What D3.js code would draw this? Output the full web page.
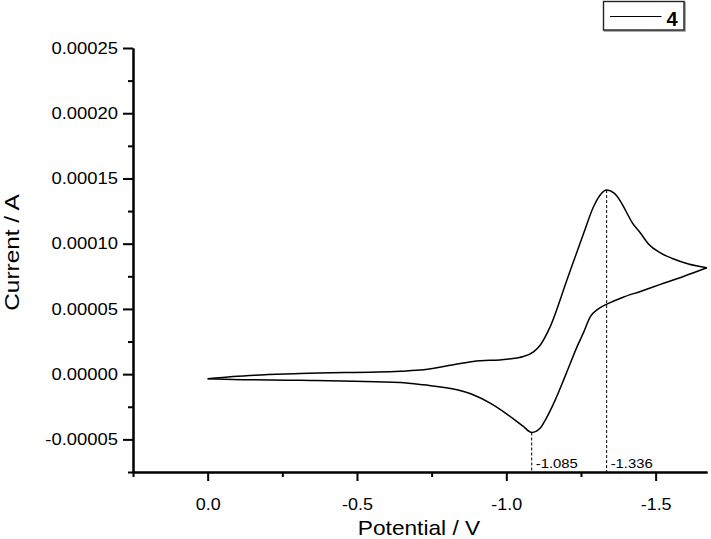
<!DOCTYPE html>
<html>
<head>
<meta charset="utf-8">
<script src="https://cdn.jsdelivr.net/npm/d3@7"></script>
<style>
  body { margin: 0; background: #fff; }
  svg { display: block; }
  text { font-family: 'Liberation Sans', Arial, sans-serif; fill: #000; }
</style>
</head>
<body>
<svg id="chart" width="711" height="539"></svg>
<script>
// forward scan (0 V -> -1.67 V), current in A
var fwdPotential = [0.000, -0.085, -0.310, -0.645, -0.723, -0.835, -0.889, -1.002, -1.057, -1.091,
  -1.114, -1.147, -1.203, -1.259, -1.292, -1.315, -1.336, -1.361, -1.382, -1.402, -1.422, -1.449,
  -1.476, -1.516, -1.556, -1.610, -1.672];
var fwdCurrent = [-3.6e-6, -1.8e-6, 0.5e-6, 2.3e-6, 3.3e-6, 7.7e-6, 9.7e-6, 11.5e-6, 13.5e-6, 17.1e-6,
  22.4e-6, 36.4e-6, 72.2e-6, 108.0e-6, 128.3e-6, 137.5e-6, 141.1e-6, 138.8e-6, 132.7e-6, 124.3e-6, 115.9e-6, 108.2e-6,
  99.8e-6, 92.9e-6, 88.7e-6, 84.5e-6, 81.6e-6];

// reverse scan (-1.67 V -> 0 V)
var revPotential = [-1.672, -1.593, -1.516, -1.449, -1.389, -1.342, -1.308, -1.281, -1.258, -1.237, -1.215,
  -1.192, -1.164, -1.131, -1.114, -1.085, -1.057, -1.002, -0.946, -0.889, -0.835, -0.723, -0.645, -0.310, -0.085, 0.000];
var revCurrent = [81.6e-6, 74.9e-6, 68.8e-6, 63.4e-6, 58.8e-6, 54.2e-6, 50.0e-6, 43.9e-6, 31.6e-6, 21.1e-6, 8.7e-6,
  -4.4e-6, -19.7e-6, -35.0e-6, -41.3e-6, -44.7e-6, -40.1e-6, -30.6e-6, -22.2e-6, -15.8e-6, -12.0e-6, -8.2e-6, -6.4e-6, -4.6e-6, -4.1e-6, -3.6e-6];

// marked peaks
var peakPotential = [-1.085, -1.336];
var peakCurrent = [-44.7e-6, 141.1e-6];
var peakLabel = ['-1.085', '-1.336'];

var xTicks = [0, -0.5, -1.0, -1.5];
var xMinorTicks = [0.25, -0.25, -0.75, -1.25];
var yTicks = [-0.00005, 0, 0.00005, 0.0001, 0.00015, 0.0002, 0.00025];
var yMinorTicks = [-0.000075, -0.000025, 0.000025, 0.000075, 0.000125, 0.000175, 0.000225];
var legendLabel = '4';

(function () {
  "use strict";

  var svg = d3.select('#chart');
  var x = d3.scaleLinear().domain([0.25, -1.672]).range([133, 707]);
  var y = d3.scaleLinear().domain([-0.000075, 0.00025]).range([472, 48]);

  // stretch glyphs a bit, the original font renders wider than Arial
  function widen(sel, k) {
    sel.each(function () {
      var w = this.getComputedTextLength();
      d3.select(this).attr('textLength', w * k).attr('lengthAdjust', 'spacingAndGlyphs');
    });
  }

  function styleAxis(g) {
    g.selectAll('path.domain').attr('stroke', '#000').attr('stroke-width', 2);
    g.selectAll('.tick line').attr('stroke', '#000').attr('stroke-width', 2);
  }

  // minor ticks first
  svg.append('g')
    .attr('transform', 'translate(0,472)')
    .call(d3.axisBottom(x).tickValues(xMinorTicks).tickSize(5).tickSizeOuter(0).tickFormat(''))
    .call(styleAxis);
  svg.append('g')
    .attr('transform', 'translate(133,0)')
    .call(d3.axisLeft(y).tickValues(yMinorTicks).tickSize(5).tickSizeOuter(0).tickFormat(''))
    .call(styleAxis);

  var gx = svg.append('g')
    .attr('transform', 'translate(0,472)')
    .call(d3.axisBottom(x).tickValues(xTicks).tickSize(9).tickSizeOuter(0).tickPadding(18)
      .tickFormat(function (d) { return d.toFixed(1); }))
    .call(styleAxis);
  gx.selectAll('.tick text').attr('font-size', 16).attr('font-family', null).attr('fill', '#000')
    .call(widen, 1.12);

  var gy = svg.append('g')
    .attr('transform', 'translate(133,0)')
    .call(d3.axisLeft(y).tickValues(yTicks).tickSize(10).tickSizeOuter(0).tickPadding(5)
      .tickFormat(function (d) { return d.toFixed(5); }))
    .call(styleAxis);
  gy.selectAll('.tick text').attr('font-size', 16).attr('font-family', null).attr('fill', '#000')
    .call(widen, 1.15);

  // axis titles
  svg.append('text')
    .attr('x', 419).attr('y', 534.5)
    .attr('text-anchor', 'middle')
    .attr('font-size', 21)
    .text('Potential / V')
    .call(widen, 1.08);
  svg.append('text')
    .attr('transform', 'translate(18.5,252.5) rotate(-90)')
    .attr('text-anchor', 'middle')
    .attr('font-size', 21)
    .text('Current / A')
    .call(widen, 1.16);

  // peak markers
  var peaks = peakPotential.map(function (p, i) {
    return { v: p, i: peakCurrent[i], label: peakLabel[i] };
  });
  svg.append('g').selectAll('line')
    .data(peaks)
    .enter().append('line')
    .attr('x1', function (d) { return x(d.v); })
    .attr('x2', function (d) { return x(d.v); })
    .attr('y1', function (d) { return y(d.i); })
    .attr('y2', y.range()[0])
    .attr('stroke', '#000')
    .attr('stroke-width', 1)
    .attr('stroke-dasharray', '3,2');
  svg.append('g').selectAll('text')
    .data(peaks)
    .enter().append('text')
    .attr('x', function (d) { return x(d.v) + 4; })
    .attr('y', 467.5)
    .attr('font-size', 13.5)
    .text(function (d) { return d.label; })
    .call(widen, 1.1);

  // the voltammogram, each branch drawn left to right on screen so monotoneX keeps peaks flat
  var line = d3.line()
    .x(function (d) { return x(d[0]); })
    .y(function (d) { return y(d[1]); })
    .curve(d3.curveMonotoneX);

  var branches = [
    d3.zip(fwdPotential, fwdCurrent),
    d3.zip(revPotential, revCurrent).reverse()
  ];
  svg.append('g').selectAll('path')
    .data(branches)
    .enter().append('path')
    .attr('d', line)
    .attr('fill', 'none')
    .attr('stroke', '#000')
    .attr('stroke-width', 1.5)
    .attr('stroke-linejoin', 'round');

  // legend
  var lg = svg.append('g').attr('class', 'legend');
  lg.append('rect')
    .attr('x', 604.5).attr('y', 2.5)
    .attr('width', 80.5).attr('height', 28.5)
    .attr('fill', 'none')
    .attr('stroke', '#888')
    .attr('stroke-width', 1.4);
  lg.append('rect')
    .attr('x', 603.5).attr('y', 1.5)
    .attr('width', 80.5).attr('height', 28.5)
    .attr('fill', '#fff')
    .attr('stroke', '#222')
    .attr('stroke-width', 1.4);
  lg.append('line')
    .attr('x1', 610).attr('x2', 661.5)
    .attr('y1', 16.5).attr('y2', 16.5)
    .attr('stroke', '#000')
    .attr('stroke-width', 1.2);
  lg.append('text')
    .attr('x', 666.5).attr('y', 25.5)
    .attr('font-size', 20)
    .attr('font-weight', 'bold')
    .text(legendLabel);
}());
</script>
</body>
</html>
